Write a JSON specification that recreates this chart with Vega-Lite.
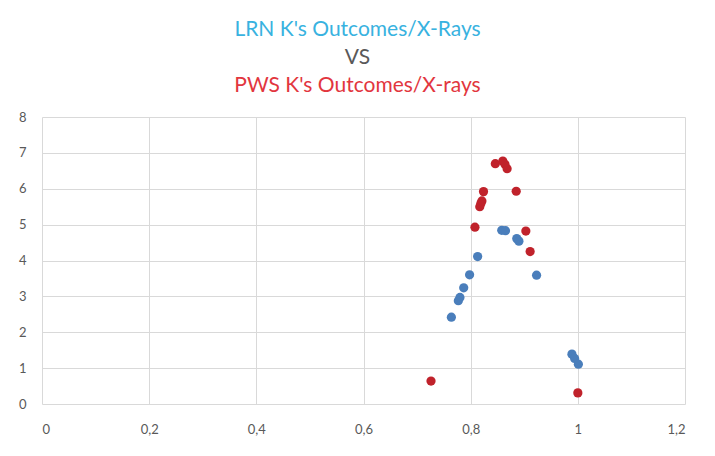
{
  "$schema": "https://vega.github.io/schema/vega-lite/v6.json",
  "autosize": "none",
  "width": 643,
  "height": 287,
  "padding": {"left": 42, "top": 117, "right": 30, "bottom": 52},
  "background": "white",
  "title": {
    "text": "LRN K's Outcomes/X-Rays",
    "subtitle": "VS",
    "color": "#38B2E0",
    "subtitleColor": "#595959",
    "font": "Lato",
    "subtitleFont": "Lato",
    "fontSize": 21,
    "subtitleFontSize": 21,
    "fontWeight": "normal",
    "anchor": "middle",
    "dx": -6,
    "offset": 6,
    "subtitlePadding": 7
  },
  "data": {
    "values": [
      {"series": "LRN", "x": 0.764, "y": 2.42},
      {"series": "LRN", "x": 0.777, "y": 2.88},
      {"series": "LRN", "x": 0.780, "y": 2.97},
      {"series": "LRN", "x": 0.787, "y": 3.24},
      {"series": "LRN", "x": 0.798, "y": 3.60},
      {"series": "LRN", "x": 0.813, "y": 4.11},
      {"series": "LRN", "x": 0.858, "y": 4.84},
      {"series": "LRN", "x": 0.865, "y": 4.83},
      {"series": "LRN", "x": 0.886, "y": 4.61},
      {"series": "LRN", "x": 0.890, "y": 4.54},
      {"series": "LRN", "x": 0.923, "y": 3.59},
      {"series": "LRN", "x": 0.989, "y": 1.39},
      {"series": "LRN", "x": 0.994, "y": 1.27},
      {"series": "LRN", "x": 1.001, "y": 1.11},
      {"series": "PWS", "x": 0.808, "y": 4.93},
      {"series": "PWS", "x": 0.817, "y": 5.50},
      {"series": "PWS", "x": 0.819, "y": 5.59},
      {"series": "PWS", "x": 0.821, "y": 5.66},
      {"series": "PWS", "x": 0.824, "y": 5.92},
      {"series": "PWS", "x": 0.846, "y": 6.70},
      {"series": "PWS", "x": 0.860, "y": 6.77},
      {"series": "PWS", "x": 0.864, "y": 6.68},
      {"series": "PWS", "x": 0.868, "y": 6.56},
      {"series": "PWS", "x": 0.885, "y": 5.93},
      {"series": "PWS", "x": 0.903, "y": 4.82},
      {"series": "PWS", "x": 0.911, "y": 4.25},
      {"series": "PWS", "x": 0.726, "y": 0.64},
      {"series": "PWS", "x": 1.000, "y": 0.31}
    ]
  },
  "encoding": {
    "y": {
      "field": "y", "type": "quantitative",
      "scale": {"domain": [0, 8], "nice": false},
      "axis": {
        "values": [0, 1, 2, 3, 4, 5, 6, 7, 8],
        "labelOverlap": false,
        "title": null, "ticks": false, "domain": false,
        "grid": true, "gridColor": "#D9D9D9",
        "labelFont": "Lato", "labelFontSize": 13, "labelColor": "#595959",
        "labelPadding": 16
      }
    }
  },
  "resolve": {"axis": {"x": "independent"}},
  "layer": [
    {
      "mark": {"type": "point", "filled": true, "opacity": 1, "size": 85},
      "encoding": {
        "x": {
          "field": "x", "type": "quantitative",
          "scale": {"domain": [0, 1.2], "nice": false},
          "axis": {
            "values": [0, 0.2, 0.4, 0.6, 0.8, 1, 1.2],
            "labelExpr": "replace(format(datum.value, ''), '.', ',')",
            "labelOverlap": false,
            "title": null, "ticks": false, "domain": false,
            "grid": true, "gridColor": "#D9D9D9",
            "labelFont": "Lato", "labelFontSize": 13, "labelColor": "#595959",
            "labelPadding": 19
          }
        },
        "color": {
          "field": "series", "type": "nominal",
          "scale": {"domain": ["LRN", "PWS"], "range": ["#4A7EBB", "#C0222B"]},
          "legend": null
        },
        "order": {"field": "series", "sort": "ascending"}
      }
    },
    {
      "mark": {"type": "point", "opacity": 0},
      "encoding": {
        "x": {
          "field": "x", "type": "quantitative",
          "scale": {"domain": [0, 1.2], "nice": false},
          "axis": {
            "orient": "top", "labels": false, "ticks": false, "domain": false, "grid": false,
            "title": "PWS K's Outcomes/X-rays",
            "titleColor": "#E2363E", "titleFont": "Lato", "titleFontSize": 21,
            "titleFontWeight": "normal", "titlePadding": 22, "titleX": 315
          }
        }
      }
    }
  ],
  "config": {"view": {"stroke": null}}
}
